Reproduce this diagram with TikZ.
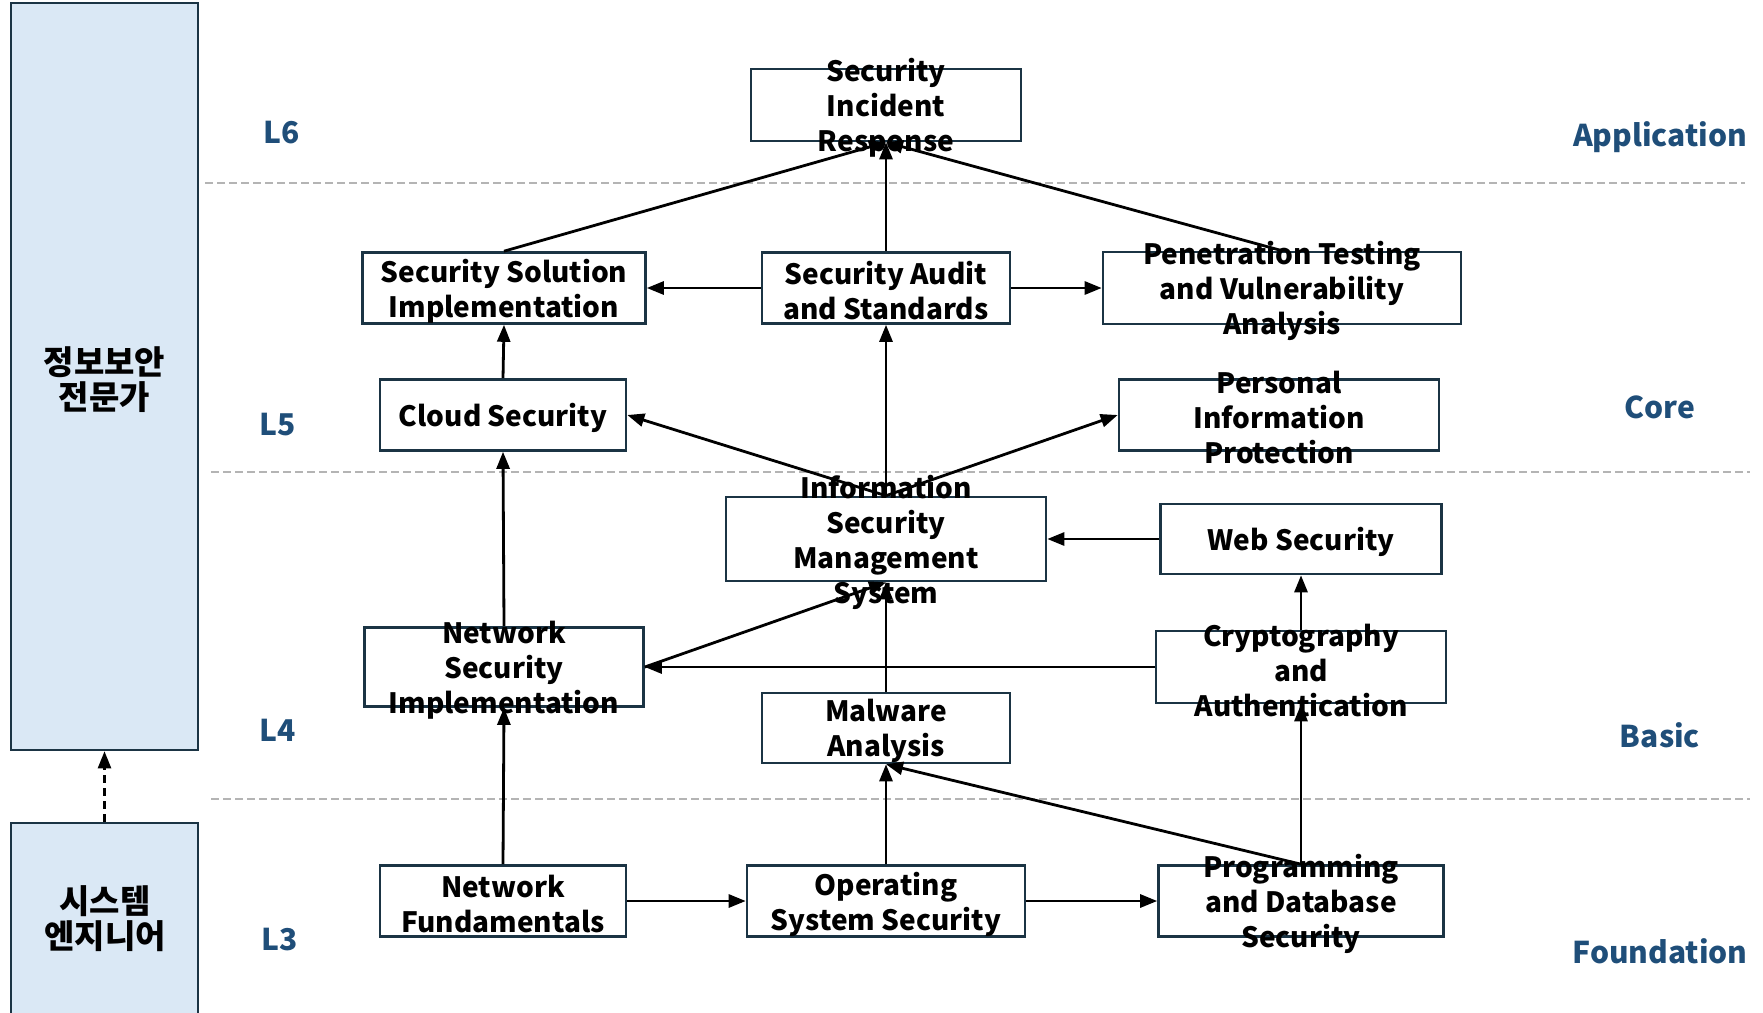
\documentclass[tikz,border=0pt]{standalone}
\usepackage{fontspec}
\setmainfont{Noto Sans CJK KR}
\usetikzlibrary{arrows.meta}
\definecolor{boxline}{HTML}{1B3444}
\definecolor{lvlblue}{HTML}{1F4E79}
\definecolor{sidefill}{HTML}{DAE8F5}
\definecolor{sepgray}{HTML}{B4B4B4}
\tikzset{
    box/.style 2 args={draw=boxline, fill=white, line width=2.6pt,
        minimum width=#1, minimum height=#2, inner sep=0pt},
    boxtext/.style={font=\fontsize{28}{35}\selectfont\bfseries,
        align=center, inner sep=0pt, text=black, yshift=-3pt},
    roletext/.style={font=\fontsize{33}{35}\selectfont\bfseries,
        align=center, inner sep=0pt, text=black, yshift=-3pt},
    side/.style={draw=boxline, fill=sidefill, line width=2.6pt, inner sep=0pt},
    lvl/.style={font=\fontsize{30}{36}\selectfont\bfseries, text=lvlblue},
    sep/.style={draw=sepgray, line width=2pt, dash pattern=on 8pt off 4pt},
    arr/.style={-{Triangle[length=17pt,width=13pt]}, line width=2.8pt}
}

\begin{document}
\begin{tikzpicture}[x=1pt, y=-1pt]
        \useasboundingbox (0,0) rectangle (1763,1012);
        % left side: roles
        \node[side, minimum width=187pt, minimum height=747pt,
            label={[roletext]center:정보보안\\전문가}] (expert) at (104.5,376.5) {};
        \node[side, minimum width=187pt, minimum height=207pt] (engineer) at (104.5,926.5) {};
        \node[roletext] (engtext) at (105,916) {시스템\\엔지니어};
        \draw[arr, line width=2.4pt, dash pattern=on 8pt off 5pt] (engineer) -- (expert);

        % level separators
        \draw[sep] (205,183) -- (1745,183);
        \draw[sep] (211,472) -- (1750,472);
        \draw[sep] (211,799) -- (1750,799);

        % level names
        \node[lvl] (l6) at (282,133) {L6};
        \node[lvl] (l5) at (278,425) {L5};
        \node[lvl] (l4) at (278,730) {L4};
        \node[lvl] (l3) at (280,940) {L3};
        \node[lvl] (app) at (1660,137) {Application};
        \node[lvl] (core) at (1660,407) {Core};
        \node[lvl] (basic) at (1660,735) {Basic};
        \node[lvl] (found) at (1660,951) {Foundation};

        % L6
        \node[box={270pt}{72pt}, label={[boxtext]center:Security\\Incident\\Response}] (sir) at (886,105) {};
        % L5
        \node[box={283pt}{71pt}, label={[boxtext]center:Security Solution\\Implementation}] (ssi) at (504,288) {};
        \node[box={248pt}{71pt}, label={[boxtext]center:Security Audit\\and Standards}] (sas) at (886,288) {};
        \node[box={358pt}{72pt}, label={[boxtext]center:Penetration Testing\\and Vulnerability\\Analysis}] (ptva) at (1282,288) {};
        \node[box={246pt}{71pt}, label={[boxtext]center:Cloud Security}] (cloud) at (503,415) {};
        \node[box={320pt}{71pt}, label={[boxtext]center:Personal\\Information\\Protection}] (pip) at (1279,415) {};
        % L4
        \node[box={320pt}{84pt}, label={[boxtext]center:Information\\Security\\Management\\System}] (isms) at (886,539) {};
        \node[box={281pt}{70pt}, label={[boxtext]center:Web Security}] (web) at (1301,539) {};
        \node[box={279pt}{79pt}, label={[boxtext]center:Network\\Security\\Implementation}] (nsi) at (504,667) {};
        \node[box={290pt}{72pt}, label={[boxtext]center:Cryptography\\and\\Authentication}] (crypto) at (1301,667) {};
        \node[box={248pt}{70pt}, label={[boxtext]center:Malware\\Analysis}] (malware) at (886,728) {};
        % L3
        \node[box={246pt}{71pt}, label={[boxtext]center:Network\\Fundamentals}] (netfund) at (503,901) {};
        \node[box={278pt}{71pt}, label={[boxtext]center:Operating\\System Security}] (oss) at (886,901) {};
        \node[box={285pt}{71pt}, label={[boxtext]center:Programming\\and Database\\Security}] (pds) at (1301,901) {};

        % prerequisites
        \draw[arr] (ssi.north) -- (sir.south);
        \draw[arr] (sas.north) -- (sir.south);
        \draw[arr] (ptva.north) -- (sir.south);
        \draw[arr] (sas.west) -- (ssi.east);
        \draw[arr] (sas.east) -- (ptva.west);
        \draw[arr] (cloud.north) -- (ssi.south);
        \draw[arr] (isms.north) -- (cloud.east);
        \draw[arr] (isms.north) -- (sas.south);
        \draw[arr] (isms.north) -- (pip.west);
        \draw[arr] (nsi.north) -- (cloud.south);
        \draw[arr] (web.west) -- (isms.east);
        \draw[arr] (crypto.north) -- (web.south);
        \draw[arr] (crypto.west) -- (nsi.east);
        \draw[arr] (nsi.east) -- (isms.south);
        \draw[arr] (malware.north) -- (isms.south);
        \draw[arr] (netfund.north) -- (nsi.south);
        \draw[arr] (netfund.east) -- (oss.west);
        \draw[arr] (oss.east) -- (pds.west);
        \draw[arr] (oss.north) -- (malware.south);
        \draw[arr] (pds.north) -- (malware.south);
        \draw[arr] (pds.north) -- (crypto.south);
\end{tikzpicture}
\end{document}
